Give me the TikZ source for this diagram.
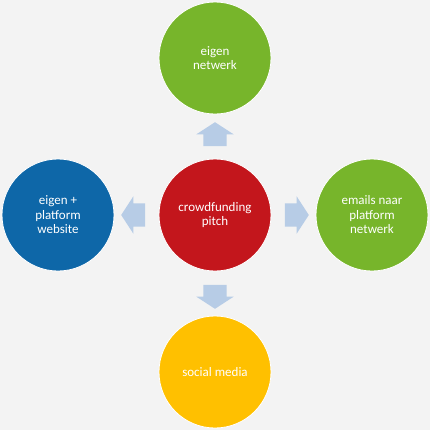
\documentclass[tikz,border=0pt]{standalone}
\usepackage{fontspec}
\setmainfont{Carlito}
\usetikzlibrary{shapes.arrows}
\definecolor{bg}{HTML}{F3F3F3}
\definecolor{cred}{HTML}{C3161C}
\definecolor{cgreen}{HTML}{77B52B}
\definecolor{cblue}{HTML}{0E67A8}
\definecolor{cyellow}{HTML}{FFC000}
\definecolor{carrow}{HTML}{B7CCE6}
\tikzset{
  disc/.style={circle, draw=white, line width=0.8bp, minimum size=112bp, inner sep=0pt,
    text=white, align=center, font=\fontsize{13bp}{14.5bp}\selectfont},
  blockarrow/.style={single arrow, fill=carrow, draw=none, inner sep=0pt,
    text height=11.5bp, text depth=11.5bp, text width=0pt,
    single arrow head extend=7bp, single arrow head indent=0pt,
    single arrow tip angle=114, minimum height=24bp}
}
\begin{document}
\begin{tikzpicture}[x=1bp,y=-1bp]
\fill[bg] (0,0) rectangle (430,430);
\useasboundingbox (0,0) rectangle (430,430);
\node[disc, fill=cred] (c) at (215,215) {crowdfunding\\pitch};
\node[disc, fill=cgreen] (t) at (215,58) {eigen\\netwerk};
\node[disc, fill=cyellow] (b) at (215,372) {social media};
\node[disc, fill=cblue] (l) at (58,215) {eigen +\\platform\\website};
\node[disc, fill=cgreen] (r) at (372,215) {emails naar\\platform\\netwerk};
\node[blockarrow, rotate=90] (at) at (215,138) {};
\node[blockarrow, rotate=-90] (ab) at (215,293) {};
\node[blockarrow, rotate=180] (al) at (137,215) {};
\node[blockarrow] (ar) at (293,215) {};
\end{tikzpicture}
\end{document}
